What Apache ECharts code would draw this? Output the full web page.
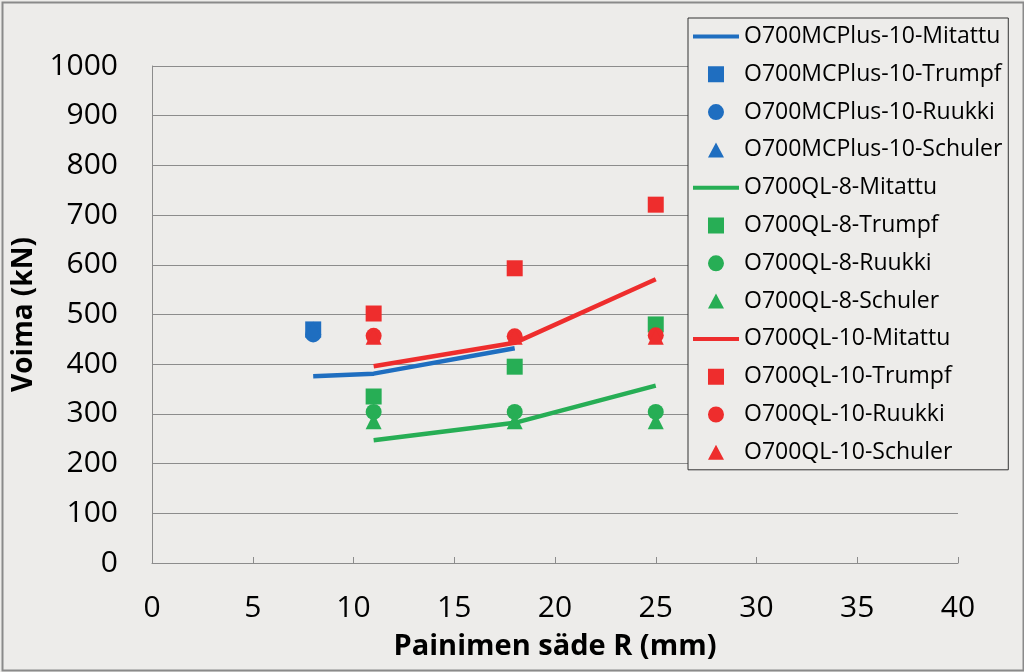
<!DOCTYPE html>
<html>
<head>
<meta charset="utf-8">
<script src="https://cdn.jsdelivr.net/npm/echarts@6/dist/echarts.min.js"></script>
<style>
html,body{margin:0;padding:0;background:#edecea;}
#c{width:1024px;height:672px;}
</style>
</head>
<body>
<div id="c"></div>
<script>
// Radius values (mm)
const xMC = [8, 11, 18];
const xQL = [11, 18, 25];
const xMCpt = [8];

// O700MCPlus-10
const mcMitattu = [376, 381, 432];
const mcTrumpf = [470];
const mcRuukki = [460];
const mcSchuler = [470];

// O700QL-8
const ql8Mitattu = [247, 282, 357];
const ql8Trumpf = [335, 395, 480];
const ql8Ruukki = [304, 304, 304];
const ql8Schuler = [285, 285, 285];

// O700QL-10
const ql10Mitattu = [396, 443, 571];
const ql10Trumpf = [502, 593, 721];
const ql10Ruukki = [457, 456, 458];
const ql10Schuler = [455, 455, 455];

const xTicks = [0, 5, 10, 15, 20, 25, 30, 35, 40];
const yTicks = [0, 100, 200, 300, 400, 500, 600, 700, 800, 900, 1000];

const BLUE = '#1f6ec0', GREEN = '#27ae55', RED = '#ee2d2d';
const FONT = 'Open Sans';

// legend icons (46 x 16 box, corner anchors keep the box size)
const ANCH = 'M0,0L0.01,0M46,16L46.01,16';
const ICON = {
  line: 'path://' + ANCH + 'M0,6L46,6L46,10L0,10Z',
  rect: 'path://' + ANCH + 'M14.5,-0.5L31.5,-0.5L31.5,16.5L14.5,16.5Z',
  circle: 'path://' + ANCH + 'M23,0A8,8,0,1,1,22.99,0Z',
  triangle: 'path://' + ANCH + 'M23,0.5L31,15.5L15,15.5Z'
};

function pairs(xs, ys) { return ys.map((v, i) => [xs[i], v]); }
function line(name, xs, ys, color) {
  return { name, type: 'line', data: pairs(xs, ys), symbol: 'none', lineStyle: { width: 4.5, color }, itemStyle: { color }, z: 2, _icon: 'line' };
}
function pts(name, xs, ys, color, symbol) {
  return { name, type: 'scatter', data: pairs(xs, ys), symbol, symbolSize: 16, itemStyle: { color, opacity: 1 }, z: 3, _icon: symbol };
}

const series = [
  line('O700MCPlus-10-Mitattu', xMC, mcMitattu, BLUE),
  pts('O700MCPlus-10-Trumpf', xMCpt, mcTrumpf, BLUE, 'rect'),
  pts('O700MCPlus-10-Ruukki', xMCpt, mcRuukki, BLUE, 'circle'),
  pts('O700MCPlus-10-Schuler', xMCpt, mcSchuler, BLUE, 'triangle'),
  line('O700QL-8-Mitattu', xQL, ql8Mitattu, GREEN),
  pts('O700QL-8-Trumpf', xQL, ql8Trumpf, GREEN, 'rect'),
  pts('O700QL-8-Ruukki', xQL, ql8Ruukki, GREEN, 'circle'),
  pts('O700QL-8-Schuler', xQL, ql8Schuler, GREEN, 'triangle'),
  line('O700QL-10-Mitattu', xQL, ql10Mitattu, RED),
  pts('O700QL-10-Trumpf', xQL, ql10Trumpf, RED, 'rect'),
  pts('O700QL-10-Ruukki', xQL, ql10Ruukki, RED, 'circle'),
  pts('O700QL-10-Schuler', xQL, ql10Schuler, RED, 'triangle')
];
const legendData = series.map(s => ({ name: s.name, icon: ICON[s._icon], itemStyle: { color: s.itemStyle.color, opacity: 1 } }));
series.forEach(s => delete s._icon);

const chart = echarts.init(document.getElementById('c'), null, { renderer: 'canvas' });
chart.setOption({
  backgroundColor: '#edecea',
  animation: false,
  textStyle: { fontFamily: FONT },
  graphic: [{
    type: 'rect', left: 0, top: 0, z: 100, silent: true,
    shape: { x: 1, y: 1, width: 1021, height: 668 },
    style: { fill: 'none', stroke: '#8a8a8a', lineWidth: 2 }
  }],
  grid: { left: 152, right: 66, top: 66, bottom: 109 },
  xAxis: {
    type: 'value', min: xTicks[0], max: xTicks[xTicks.length - 1], interval: 5,
    name: 'Painimen säde R (mm)', nameLocation: 'middle', nameGap: 69,
    nameTextStyle: { fontFamily: FONT, fontSize: 29, fontWeight: 'bold', color: '#000' },
    axisLine: { show: true, lineStyle: { color: '#8c8c8c', width: 1 } },
    axisTick: { show: true, inside: true, length: 6, lineStyle: { color: '#8c8c8c' } },
    axisLabel: { fontFamily: FONT, fontSize: 30, color: '#000', margin: 30 },
    splitLine: { show: false }
  },
  yAxis: {
    type: 'value', min: yTicks[0], max: yTicks[yTicks.length - 1], interval: 100,
    name: 'Voima (kN)', nameLocation: 'middle', nameGap: 108, nameRotate: 90,
    nameTextStyle: { fontFamily: FONT, fontSize: 28, fontWeight: 'bold', color: '#000' },
    axisLine: { show: true, lineStyle: { color: '#8c8c8c', width: 1 } },
    axisTick: { show: false },
    axisLabel: { fontFamily: FONT, fontSize: 30, color: '#000', margin: 34, formatter: v => String(v) },
    splitLine: { show: true, lineStyle: { color: '#8c8c8c', width: 1 } }
  },
  legend: {
    orient: 'vertical', left: 688, top: 18,
    padding: [7, 6, 6, 5],
    itemWidth: 46, itemHeight: 16, itemGap: 14.8,
    backgroundColor: '#edecea', borderColor: '#333', borderWidth: 1,
    textStyle: { fontFamily: FONT, fontSize: 23, color: '#000', lineHeight: 22 },
    data: legendData
  },
  series
});
</script>
</body>
</html>
